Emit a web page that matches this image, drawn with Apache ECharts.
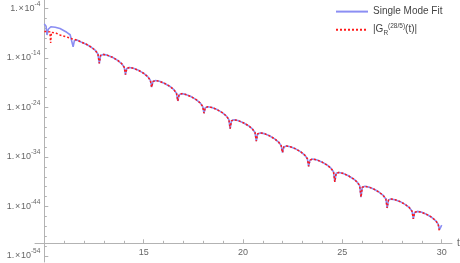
<!DOCTYPE html>
<html>
<head>
<meta charset="utf-8">
<script src="https://cdn.jsdelivr.net/npm/echarts@6/dist/echarts.min.js"></script>
<style>
html,body{margin:0;padding:0;background:#fff;}
#c{width:460px;height:263px;}
</style>
</head>
<body>
<div id="c"></div>
<script>
// ---- data (t, log10 of value) ----
const blueHeadT = [10.0, 10.04, 10.09, 10.134, 10.2, 10.33, 10.55, 10.79, 11.13, 11.3, 11.385, 11.451, 11.517, 11.648];
const blueHeadE = [-7.10, -7.22, -7.6, -9.35, -8.18, -7.68, -7.80, -8.05, -8.81, -9.3, -9.7, -11.72, -10.45, -10.38];

const redHeadT = [10.0, 10.15, 10.28, 10.32, 10.36, 10.6, 10.79, 11.0, 11.2, 11.38, 11.648];
const redHeadE = [-8.62, -8.66, -8.72, -10.97, -8.80, -9.0, -9.35, -9.6, -9.85, -10.1, -10.38];

const sharedT = [11.846, 12.11, 12.373, 12.57, 12.70, 12.768,
  12.834, 12.965, 13.163, 13.427, 13.690, 13.887, 14.019, 14.085,
  14.151, 14.282, 14.480, 14.744, 15.007, 15.204, 15.336, 15.402,
  15.468, 15.599, 15.797, 16.061, 16.324, 16.521, 16.653, 16.719,
  16.785, 16.916, 17.114, 17.378, 17.641, 17.838, 17.970, 18.036,
  18.102, 18.233, 18.431, 18.695, 18.958, 19.155, 19.287, 19.353,
  19.419, 19.550, 19.748, 20.012, 20.275, 20.472, 20.604, 20.670,
  20.736, 20.867, 21.065, 21.329, 21.592, 21.789, 21.921, 21.987,
  22.053, 22.184, 22.382, 22.646, 22.909, 23.106, 23.238, 23.304,
  23.370, 23.501, 23.699, 23.963, 24.226, 24.423, 24.555, 24.621,
  24.687, 24.818, 25.016, 25.280, 25.543, 25.740, 25.872, 25.938,
  26.004, 26.135, 26.333, 26.597, 26.860, 27.057, 27.189, 27.255,
  27.321, 27.452, 27.650, 27.914, 28.177, 28.374, 28.506, 28.572,
  28.638, 28.769, 28.967, 29.231, 29.494, 29.691, 29.823];
const sharedE = [-10.75, -11.21, -11.83, -12.47, -13.20, -15.07,
  -13.47, -13.27, -13.42, -13.85, -14.47, -15.11, -15.84, -17.36,
  -16.12, -15.92, -16.06, -16.49, -17.11, -17.76, -18.48, -19.89,
  -18.76, -18.56, -18.70, -19.14, -19.75, -20.40, -21.13, -22.68,
  -21.40, -21.20, -21.35, -21.78, -22.40, -23.04, -23.77, -25.15,
  -24.04, -23.84, -23.99, -24.42, -25.04, -25.69, -26.41, -28.29,
  -26.69, -26.49, -26.63, -27.07, -27.68, -28.33, -29.06, -30.81,
  -29.33, -29.13, -29.27, -29.71, -30.33, -30.97, -31.70, -33.10,
  -31.97, -31.77, -31.92, -32.35, -32.97, -33.61, -34.34, -35.89,
  -34.62, -34.42, -34.56, -34.99, -35.61, -36.26, -36.98, -39.04,
  -37.30, -37.12, -37.28, -37.74, -38.38, -39.04, -39.78, -42.10,
  -40.10, -39.92, -40.08, -40.50, -41.12, -41.76, -42.48, -44.30,
  -42.70, -42.50, -42.62, -43.02, -43.62, -44.24, -44.95, -46.51,
  -45.19, -44.99, -45.13, -45.57, -46.18, -46.83, -47.56];

const blueTailT = [29.889, 30.0];
const blueTailE = [-48.7, -47.75];
const redTailT = [29.889];
const redTailE = [-49.09];

const seriesNames = ['Single Mode Fit', '|G_R^(28/5)(t)|'];
const yMajorTicks = [-54, -44, -34, -24, -14, -4];
const yMinorTicks = [-52, -50, -48, -46, -42, -40, -38, -36, -32, -30, -28, -26, -22, -20, -18, -16, -12, -10, -8, -6];
const xMajorTicks = [15, 20, 25, 30];
const xMinorTicks = [11, 12, 13, 14, 16, 17, 18, 19, 21, 22, 23, 24, 26, 27, 28, 29];

function pairs(tArr, eArr) { return tArr.map((t, i) => [t, eArr[i]]); }
const blueData = pairs(blueHeadT, blueHeadE).concat(pairs(sharedT, sharedE), pairs(blueTailT, blueTailE));
const redData = pairs(redHeadT, redHeadE).concat(pairs(sharedT, sharedE), pairs(redTailT, redTailE));

const axisColor = '#b3b3b3';
const labelColor = '#666';
const FONT = 'Liberation Sans, Arial, sans-serif';
const X_MIN = 9.532, X_MAX = 30.518, Y_MIN = -55.21, Y_MAX = -2.28;

const chart = echarts.init(document.getElementById('c'), null, {renderer: 'canvas'});
chart.setOption({
  animation: false,
  backgroundColor: '#fff',
  grid: {left: 35, right: 8, top: 0, bottom: 1, containLabel: false, outerBoundsMode: 'none'},
  legend: {
    orient: 'vertical', left: 335, top: 6, padding: 0,
    itemWidth: 32, itemHeight: 14, itemGap: 5.5,
    data: seriesNames,
    itemStyle: {opacity: 0},
    formatter: function (name) {
      if (name === seriesNames[0]) return '{n|Single Mode Fit}';
      return '{n||G}{sub|R}{sup|(28/5)}{n|(t)|}';
    },
    textStyle: {
      fontFamily: FONT, fontSize: 10, color: '#444',
      rich: {
        n: {fontFamily: FONT, fontSize: 10, color: '#444', lineHeight: 14},
        sub: {fontFamily: FONT, fontSize: 6.5, color: '#444', lineHeight: 8, verticalAlign: 'bottom'},
        sup: {fontFamily: FONT, fontSize: 6.5, color: '#444', lineHeight: 8, verticalAlign: 'top'}
      }
    }
  },
  xAxis: [{
    type: 'value', position: 'bottom', min: X_MIN, max: X_MAX, offset: -18.7,
    name: 't', nameLocation: 'end', nameGap: 5,
    nameTextStyle: {fontFamily: FONT, fontSize: 10, color: labelColor, verticalAlign: 'middle', padding: [3, 0, 0, 0]},
    axisLine: {show: true, onZero: false, lineStyle: {color: axisColor, width: 1}},
    axisTick: {show: true, inside: true, length: 4, customValues: xMajorTicks, lineStyle: {color: axisColor}},
    axisLabel: {show: true, customValues: xMajorTicks, margin: 5, fontFamily: FONT, fontSize: 9, color: labelColor},
    splitLine: {show: false}
  }, {
    type: 'value', position: 'bottom', min: X_MIN, max: X_MAX, offset: -18.7,
    axisLine: {show: false, onZero: false},
    axisTick: {show: true, inside: true, length: 2.5, customValues: xMinorTicks, lineStyle: {color: axisColor}},
    axisLabel: {show: false},
    splitLine: {show: false}
  }],
  yAxis: [{
    type: 'value', position: 'left', min: Y_MIN, max: Y_MAX, offset: -9.3,
    axisLine: {show: true, onZero: false, lineStyle: {color: axisColor, width: 1}},
    axisTick: {show: true, inside: true, length: 4, customValues: yMajorTicks, lineStyle: {color: axisColor}},
    axisLabel: {
      show: true, customValues: yMajorTicks, margin: 4,
      formatter: function (v) { return '{a|1.\u200A×\u200A10}{s|' + v + '}'; },
      rich: {
        a: {fontFamily: FONT, fontSize: 9, color: labelColor, lineHeight: 16},
        s: {fontFamily: FONT, fontSize: 6.5, color: labelColor, lineHeight: 8, verticalAlign: 'top'}
      }
    },
    splitLine: {show: false}
  }, {
    type: 'value', position: 'left', min: Y_MIN, max: Y_MAX, offset: -9.3,
    axisLine: {show: false, onZero: false},
    axisTick: {show: true, inside: true, length: 2.5, customValues: yMinorTicks, lineStyle: {color: axisColor}},
    axisLabel: {show: false},
    splitLine: {show: false}
  }],
  series: [{
    name: seriesNames[0], type: 'line', xAxisIndex: 0, yAxisIndex: 0,
    data: blueData, symbol: 'none', showSymbol: false,
    itemStyle: {color: '#8b8ef3'},
    lineStyle: {color: '#8b8ef3', width: 1.6}
  }, {
    name: seriesNames[1], type: 'line', xAxisIndex: 0, yAxisIndex: 0,
    data: redData, symbol: 'none', showSymbol: false,
    itemStyle: {color: '#ff1a1a'},
    lineStyle: {color: '#ff1a1a', width: 1.5, type: [2, 2]}
  }]
});
</script>
</body>
</html>
